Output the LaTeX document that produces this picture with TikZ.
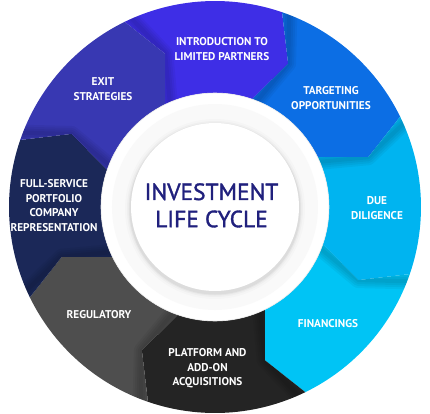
\documentclass[tikz,border=0pt]{standalone}
\usepackage{fontspec}
\setmainfont{PT Sans}
\newfontfamily\titlefont[FakeBold=1.5]{PT Sans}
\usetikzlibrary{calc}
\definecolor{c1}{RGB}{62,46,230}
\definecolor{c2}{RGB}{12,110,228}
\definecolor{c3}{RGB}{0,180,240}
\definecolor{c4}{RGB}{0,196,245}
\definecolor{c5}{RGB}{36,36,36}
\definecolor{c6}{RGB}{78,78,78}
\definecolor{c7}{RGB}{27,40,88}
\definecolor{c8}{RGB}{56,56,178}
\definecolor{titlecol}{RGB}{32,32,125}
\tikzset{
  seglabel/.style={text=white,align=center,font=\bfseries\fontsize{11.3}{14.5}\selectfont,inner sep=0pt},
  titlelabel/.style={text=titlecol,align=center,font=\titlefont\fontsize{23.5}{27.3}\selectfont,inner sep=0pt}
}
\begin{document}
\begin{tikzpicture}[x=1bp,y=1bp]
\useasboundingbox (-215,-207) rectangle (215,207);
\foreach \a/\col in {116/c1,71/c2,26/c3,-19/c4,-64/c5,-109/c6,-154/c7,-199/c8} {
  \pgfmathsetmacro\b{\a-45}
  \pgfmathsetmacro\ca{\a-8}
  \pgfmathsetmacro\cb{\b-8}
  \fill[\col] (\a:206) arc[start angle=\a,end angle=\b,radius=206] -- (\cb:161) -- (\b:114) arc[start angle=\b,end angle=\a,radius=114] -- (\ca:161) -- cycle;
  \begin{scope}
    \clip (\a:206) arc[start angle=\a,end angle=\b,radius=206] -- (\cb:161) -- (\b:114) arc[start angle=\b,end angle=\a,radius=114] -- (\ca:161) -- cycle;
    \foreach \w in {4,8,12,16} {
      \draw[black,opacity=0.045,line width=\w bp,line join=round] (\a:230) -- (\ca:161) -- (\a:100);
    }
  \end{scope}
}
% central discs
\fill[white] (0,0) circle (114);
\draw[black!8,line width=0.6bp] (0,0) circle (114);
\fill[black!2.5] (0,0) circle (103);
\foreach \r/\o in {90/0.015,88/0.025,86.5/0.035,85.5/0.045} {
  \fill[black,opacity=\o] (0,-2) circle (\r);
}
\fill[white] (0,0) circle (84);
% labels
\node[seglabel] (intro) at (7,158) {INTRODUCTION TO\\LIMITED PARTNERS};
\node[seglabel] (target) at (116,109) {TARGETING\\OPPORTUNITIES};
\node[seglabel] (due) at (162,-1) {DUE\\DILIGENCE};
\node[seglabel] (fin) at (113,-117) {FINANCINGS};
\node[seglabel] (plat) at (-7.5,-161.5) {PLATFORM AND\\ADD-ON\\ACQUISITIONS};
\node[seglabel] (reg) at (-116,-108) {REGULATORY};
\node[seglabel] (full) at (-161,1.5) {FULL-SERVICE\\PORTFOLIO\\COMPANY\\REPRESENTATION};
\node[seglabel] (exit) at (-112,118) {EXIT\\STRATEGIES};
\node[titlelabel] (title) at (-3.5,1.6) {INVESTMENT\\LIFE CYCLE};
\end{tikzpicture}
\end{document}
